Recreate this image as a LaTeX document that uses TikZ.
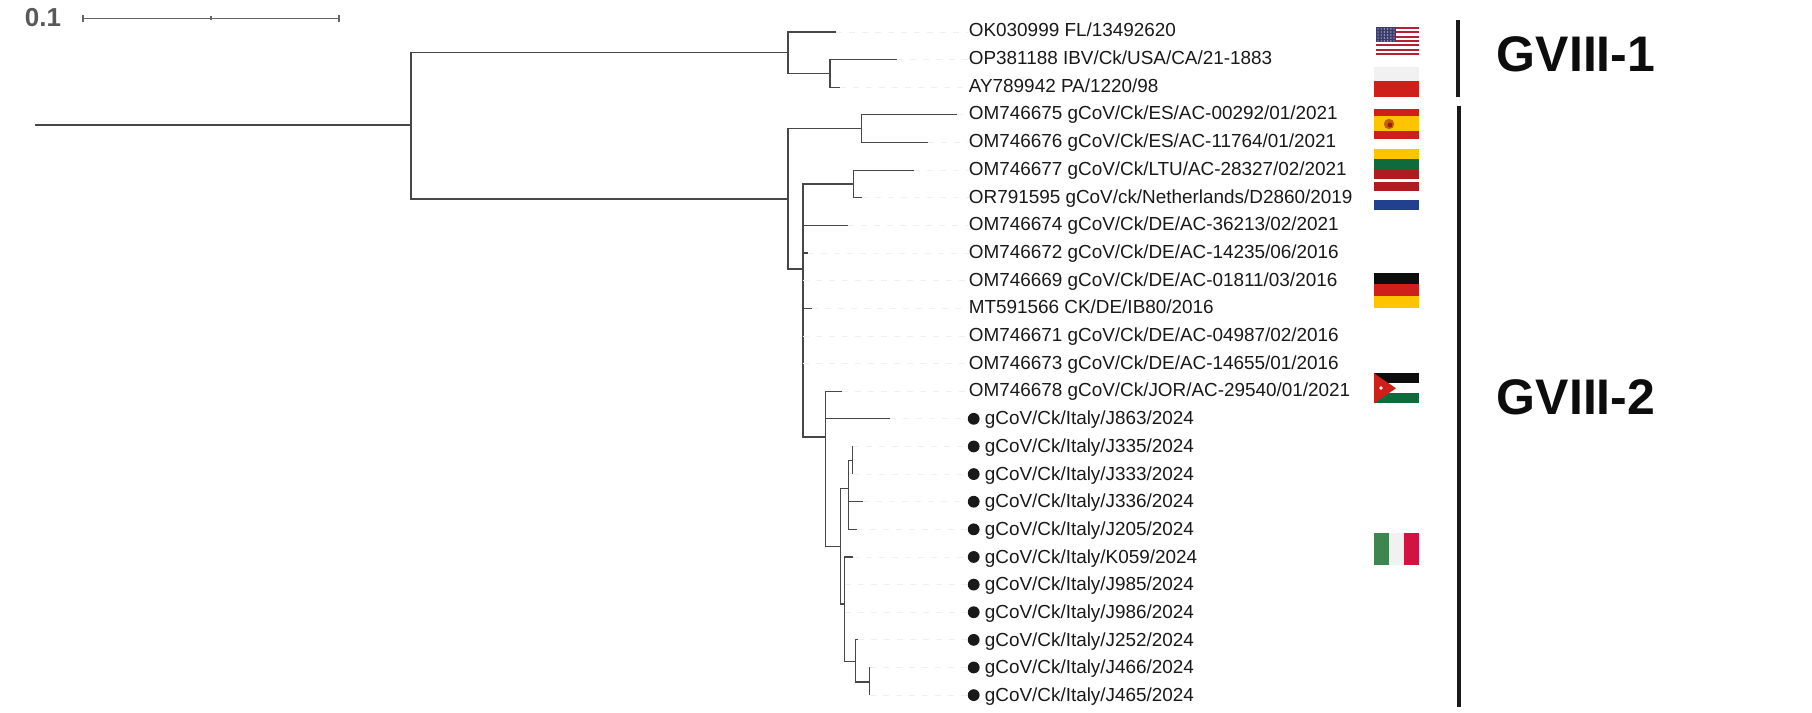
\documentclass[tikz,border=0pt]{standalone}
\usepackage{fontspec}
\setmainfont{Liberation Sans}
\definecolor{usred}{HTML}{B22234}
\definecolor{usblue}{HTML}{3C3B6E}
\definecolor{flagred}{HTML}{CF1F1A}
\definecolor{flagyellow}{HTML}{FFC400}
\definecolor{ltgreen}{HTML}{106B3C}
\definecolor{ltred}{HTML}{AE1C20}
\definecolor{nlblue}{HTML}{23408F}
\definecolor{itgreen}{HTML}{3F8550}
\definecolor{itred}{HTML}{D21243}
\definecolor{paleflag}{HTML}{F1F1F1}
\begin{document}
\begin{tikzpicture}[
    x=0.5pt, y=-0.5pt,
    branch/.style={draw=black!72, line width=0.55pt},
    guide/.style={draw=black!6, line width=0.4pt, dash pattern=on 3pt off 3.5pt},
    scalebar/.style={draw=black!60, line width=0.7pt},
    taxon/.style={anchor=west, inner sep=0pt, text height=6.6pt, text depth=2pt, text=black!90, font=\fontsize{9.45}{11}\selectfont},
    tipdot/.style={circle, fill=black!90, inner sep=0pt, minimum size=5.9pt},
    clade/.style={draw=black!90, line width=2pt},
    cladename/.style={anchor=west, inner sep=0pt, text=black!95, font=\fontsize{25}{30}\bfseries\selectfont},
]
\useasboundingbox (0,0) rectangle (1812,713);
% scale
\node[inner sep=0pt, text=black!65, font=\fontsize{13}{16}\bfseries\selectfont] (scaletext) at (43,18) {0.1};
\coordinate (sa) at (83,18.3);
\coordinate (sb) at (211,18.3);
\coordinate (sc) at (339,18.3);
\draw[scalebar] (sa) -- (sc);
\draw[scalebar] ([yshift=-1.7pt]sa) -- ([yshift=1.7pt]sa);
\draw[scalebar] ([yshift=-1pt]sb) -- ([yshift=1pt]sb);
\draw[scalebar] ([yshift=-1.7pt]sc) -- ([yshift=1.7pt]sc);
% tips
\foreach \i/\x in {0/836,1/897,2/840,3/957,4/928,5/914,6/862,7/848,8/808,9/803,10/812,11/803,12/803,13/842,14/890,15/852.5,16/852.5,17/863,18/856.5,19/852.5,20/844.5,21/844.5,22/857.5,23/869.5,24/869.5}
    \coordinate (t\i) at (\x,{32+27.63*\i});
% inner nodes
\coordinate (stem) at (35,125);
\coordinate (root) at (411,125);
\coordinate (na) at (788,52.5);
\coordinate (nb) at (830,73.5);
\coordinate (nc) at (788,199);
\coordinate (nd) at (861.5,128.7);
\coordinate (ne) at (803,269);
\coordinate (nf) at (853.5,184);
\coordinate (ng) at (825.5,437);
\coordinate (nh) at (840.5,546.7);
\coordinate (ni) at (848.5,488.7);
\coordinate (nj) at (852.5,460.7);
\coordinate (nk) at (844.5,604);
\coordinate (nl) at (855.5,661.3);
\coordinate (nm) at (869.5,682);
% branches
\draw[branch] (stem) -- (root);
\foreach \a/\b in {root/na,root/nc,na/t0,na/nb,nb/t1,nb/t2,nc/nd,nc/ne,nd/t3,nd/t4,ne/nf,ne/t7,ne/t8,ne/t9,ne/t10,ne/t11,ne/t12,ne/ng,nf/t5,nf/t6,ng/t13,ng/t14,ng/nh,nh/ni,nh/nk,ni/nj,ni/t17,ni/t18,nj/t15,nj/t16,nk/t19,nk/t20,nk/t21,nk/nl,nl/t22,nl/nm,nm/t23,nm/t24}
    \draw[branch] (\a) |- (\b);
% labels
\foreach \txt [count=\i from 0] in {OK030999 FL/13492620,OP381188 IBV/Ck/USA/CA/21-1883,AY789942 PA/1220/98,OM746675 gCoV/Ck/ES/AC-00292/01/2021,OM746676 gCoV/Ck/ES/AC-11764/01/2021,OM746677 gCoV/Ck/LTU/AC-28327/02/2021,OR791595 gCoV/ck/Netherlands/D2860/2019,OM746674 gCoV/Ck/DE/AC-36213/02/2021,OM746672 gCoV/Ck/DE/AC-14235/06/2016,OM746669 gCoV/Ck/DE/AC-01811/03/2016,MT591566 CK/DE/IB80/2016,OM746671 gCoV/Ck/DE/AC-04987/02/2016,OM746673 gCoV/Ck/DE/AC-14655/01/2016,OM746678 gCoV/Ck/JOR/AC-29540/01/2021} {
    \node[taxon] (l\i) at (968.5,{32.2+27.7*\i}) {\txt};
    \draw[guide] (t\i) -- (t\i -| l\i.west);
}
\foreach \txt [count=\i from 14] in {J863,J335,J333,J336,J205,K059,J985,J986,J252,J466,J465} {
    \node[tipdot] (d\i) at (973.7,{32+27.63*\i}) {};
    \node[taxon] (l\i) at (984.5,{32.2+27.7*\i}) {gCoV/Ck/Italy/\txt/2024};
    \draw[guide] (t\i) -- (d\i.west);
}
% flags
% USA
\foreach \k in {0,...,12}
    \fill[\ifodd\k white\else usred\fi] (1375.7,{27+2.154*\k}) rectangle (1419.3,{27+2.154*(\k+1)});
\fill[usblue] (1375.7,27) rectangle (1396,42);
\foreach \u in {1378,1381.2,...,1394.5}
    \foreach \v in {29,32,...,41}
        \fill[white!75!usblue] (\u,\v) circle (0.35pt);
% Poland
\fill[paleflag] (1374,66.7) rectangle (1419.3,81.3);
\fill[flagred] (1374,81.3) rectangle (1419.3,96.7);
% Spain
\fill[flagred] (1374,108.5) rectangle (1419.3,116);
\fill[flagyellow] (1374,116) rectangle (1419.3,131);
\fill[flagred] (1374,131) rectangle (1419.3,138.7);
\fill[orange!75!black] (1389,124) circle (2.6pt);
\fill[flagred!80!black] (1390,125) circle (1.2pt);
% Lithuania
\fill[flagyellow] (1374,149.3) rectangle (1419.3,159.3);
\fill[ltgreen] (1374,159.3) rectangle (1419.3,169);
\fill[ltred] (1374,169) rectangle (1419.3,179);
% Netherlands
\fill[ltred] (1374,181.7) rectangle (1419.3,191);
\fill[nlblue] (1374,200.3) rectangle (1419.3,210.3);
% Germany
\fill[black!95] (1374,273.3) rectangle (1419.3,284.3);
\fill[flagred] (1374,284.3) rectangle (1419.3,296);
\fill[flagyellow] (1374,296) rectangle (1419.3,307.7);
% Jordan
\fill[black!95] (1374,373.3) rectangle (1419.3,383.3);
\fill[ltgreen] (1374,393.3) rectangle (1419.3,403.3);
\fill[flagred] (1374,373.3) -- (1396,388.3) -- (1374,403.3) -- cycle;
\fill[white] (1381,388) circle (0.9pt);
% Italy
\fill[itgreen] (1374,533.3) rectangle (1388.7,565.3);
\fill[paleflag] (1388.7,533.3) rectangle (1404.3,565.3);
\fill[itred] (1404.3,533.3) rectangle (1419.3,565.3);
% clades
\coordinate (ca) at (1458,20);
\coordinate (cb) at (1458,96.7);
\coordinate (cc) at (1458.5,105.7);
\coordinate (cd) at (1458.5,707);
\draw[clade] (ca) -- (cb);
\draw[clade] (cc) -- (cd);
\node[cladename] (gviiia) at (1496.5,54) {GVIII-1};
\node[cladename] (gviiib) at (1496.5,397.5) {GVIII-2};
\end{tikzpicture}
\end{document}
